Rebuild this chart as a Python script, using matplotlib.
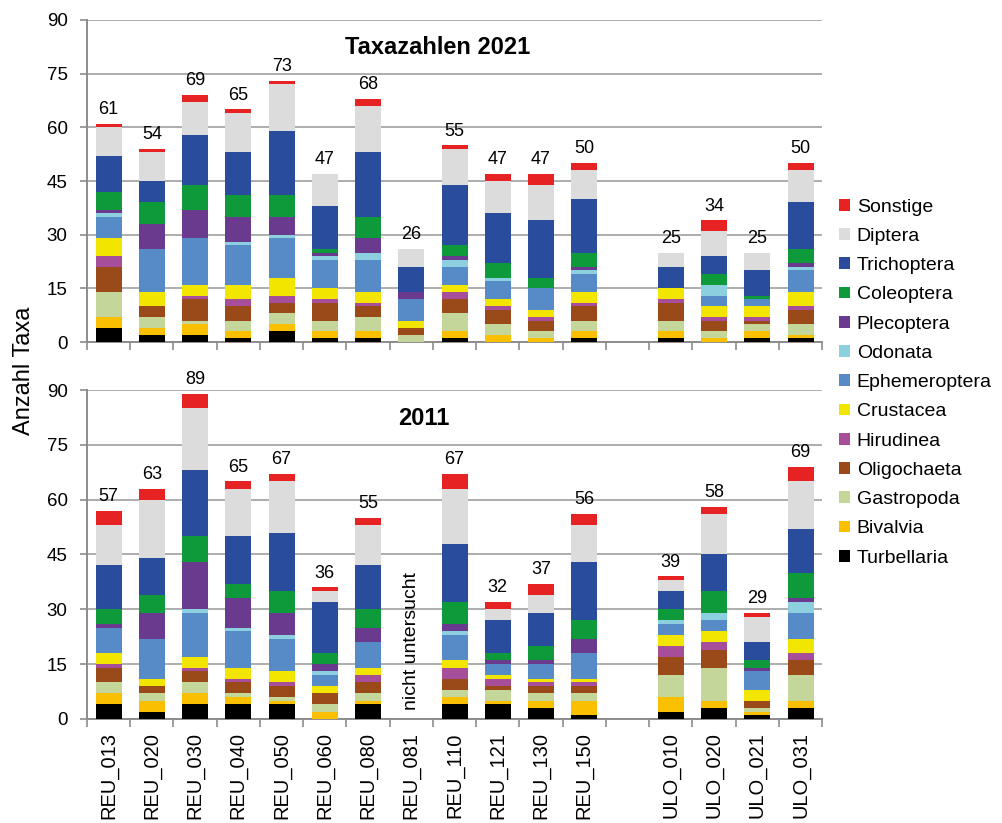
import numpy as np
import matplotlib
matplotlib.use("Agg")
import matplotlib.pyplot as plt
from matplotlib.patches import Patch

plt.rcParams['font.family'] = ['Liberation Sans', 'DejaVu Sans']

SITES = ["REU_013", "REU_020", "REU_030", "REU_040", "REU_050", "REU_060",
         "REU_080", "REU_081", "REU_110", "REU_121", "REU_130", "REU_150",
         "ULO_010", "ULO_020", "ULO_021", "ULO_031"]

TAXA = ["Turbellaria", "Bivalvia", "Gastropoda", "Oligochaeta", "Hirudinea",
        "Crustacea", "Ephemeroptera", "Odonata", "Plecoptera", "Coleoptera",
        "Trichoptera", "Diptera", "Sonstige"]

COLORS = ["#000000", "#FAC000", "#C4D69A", "#9A4A18", "#A64E9A",
          "#F2E600", "#568BC8", "#8CD0E0", "#6A3A8E", "#0E9A3A",
          "#2A4C9C", "#DCDCDC", "#E62222"]

# rows = sites, columns = taxa (same order as TAXA)
counts_2021 = [
    [4, 3, 7, 7, 3, 5, 6, 1, 1, 5, 10, 8, 1],
    [2, 2, 3, 3, 0, 4, 12, 0, 7, 6, 6, 8, 1],
    [2, 3, 1, 6, 1, 3, 13, 0, 8, 7, 14, 9, 2],
    [1, 2, 3, 4, 2, 4, 11, 1, 7, 6, 12, 11, 1],
    [3, 2, 3, 3, 2, 5, 11, 1, 5, 6, 18, 13, 1],
    [1, 2, 3, 5, 1, 3, 8, 1, 1, 1, 12, 9, 0],
    [1, 2, 4, 3, 1, 3, 9, 2, 4, 6, 18, 13, 2],
    [0, 0, 2, 2, 0, 2, 6, 0, 2, 0, 7, 5, 0],
    [1, 2, 5, 4, 2, 2, 5, 2, 1, 3, 17, 10, 1],
    [0, 2, 3, 4, 1, 2, 5, 1, 0, 4, 14, 9, 2],
    [0, 1, 2, 3, 1, 2, 6, 0, 0, 3, 16, 10, 3],
    [1, 2, 3, 4, 1, 3, 5, 1, 1, 4, 15, 8, 2],
    [1, 2, 3, 5, 1, 3, 0, 0, 0, 0, 6, 4, 0],
    [0, 1, 2, 3, 1, 3, 3, 3, 0, 3, 5, 7, 3],
    [1, 2, 2, 1, 1, 3, 2, 0, 0, 1, 7, 5, 0],
    [1, 1, 3, 4, 1, 4, 6, 1, 1, 4, 13, 9, 2],
]

counts_2011 = [
    [4, 3, 3, 4, 1, 3, 7, 0, 1, 4, 12, 11, 4],
    [2, 3, 2, 2, 0, 2, 11, 0, 7, 5, 10, 16, 3],
    [4, 3, 3, 3, 1, 3, 12, 1, 13, 7, 18, 17, 4],
    [4, 2, 1, 3, 1, 3, 10, 1, 8, 4, 13, 13, 2],
    [4, 1, 1, 3, 1, 3, 9, 1, 6, 6, 16, 14, 2],
    [0, 2, 2, 3, 0, 2, 3, 1, 2, 3, 14, 3, 1],
    [4, 1, 2, 3, 2, 2, 7, 0, 4, 5, 12, 11, 2],
    [0, 0, 0, 0, 0, 0, 0, 0, 0, 0, 0, 0, 0],   # REU_081 nicht untersucht
    [4, 2, 2, 3, 3, 2, 7, 1, 2, 6, 16, 15, 4],
    [4, 1, 3, 1, 2, 1, 3, 0, 1, 2, 9, 3, 2],
    [3, 2, 2, 2, 1, 1, 4, 0, 1, 4, 9, 5, 3],
    [1, 4, 2, 2, 1, 1, 7, 0, 4, 5, 16, 10, 3],
    [2, 4, 6, 5, 3, 3, 3, 1, 0, 3, 5, 3, 1],
    [3, 2, 9, 5, 2, 3, 3, 2, 0, 6, 10, 11, 2],
    [1, 1, 1, 2, 0, 3, 5, 0, 1, 2, 5, 7, 1],
    [3, 2, 7, 4, 2, 4, 7, 3, 1, 7, 12, 13, 4],
]

NOT_SAMPLED_2011 = "REU_081"

# 12 REU sites, one empty slot, then 4 ULO sites
xpos = np.array(list(range(12)) + list(range(13, 17)))
N_SLOTS = 17
GRID_C = "#A0A0A0"
AX_C = "#8C8C8C"


def draw_panel(ax, counts, title, title_xy, skip=None):
    data = np.array(counts).T
    bottom = np.zeros(len(SITES))
    for taxon, color, vals in zip(TAXA, COLORS, data):
        ax.bar(xpos, vals, bottom=bottom, width=0.6, color=color,
               linewidth=0, zorder=3)
        bottom += vals
    for x, site, tot in zip(xpos, SITES, bottom):
        if site == skip:
            continue
        ax.text(x, tot + 1.6, f"{int(tot)}", ha="center", va="bottom",
                fontsize=13)

    ax.set_xlim(-0.5, N_SLOTS - 0.5)
    ax.set_ylim(0, 90)
    ax.set_yticks(np.arange(0, 91, 15))
    ax.yaxis.grid(True, color=GRID_C, linewidth=1.2, zorder=0)
    ax.set_axisbelow(True)
    for s in ("top", "right"):
        ax.spines[s].set_visible(False)
    for s in ("left", "bottom"):
        ax.spines[s].set_color(AX_C)
        ax.spines[s].set_linewidth(1.4)
    ax.tick_params(axis="y", length=5, width=1.2, color=AX_C, pad=9,
                   labelsize=13.5)
    # ticks between categories (Excel style)
    ax.set_xticks(np.arange(-0.5, N_SLOTS, 1.0))
    ax.set_xticklabels([])
    ax.tick_params(axis="x", which="major", length=6, width=1.2, color=AX_C)
    ax.text(title_xy[0], title_xy[1], title, ha="center", va="center",
            fontsize=17, fontweight="bold", transform=ax.transData,
            zorder=5)


fig = plt.figure(figsize=(10.03, 8.23), dpi=100)
ax1 = fig.add_axes([0.0867, 0.5844, 0.733, 0.3913])
ax2 = fig.add_axes([0.0867, 0.1264, 0.733, 0.3997])

draw_panel(ax1, counts_2021, "Taxazahlen 2021", (7.6, 82.3))
draw_panel(ax2, counts_2011, "2011", (7.3, 82.3), skip=NOT_SAMPLED_2011)

# site labels under the lower panel
for x, site in zip(xpos, SITES):
    ax2.text(x, -3.6, site, rotation=90, ha="center", va="top",
             fontsize=14.5, clip_on=False)

i_ns = SITES.index(NOT_SAMPLED_2011)
ax2.text(xpos[i_ns], 2.5, "nicht untersucht", rotation=90, ha="center",
         va="bottom", fontsize=14)

fig.text(0.024, 0.55, "Anzahl Taxa", rotation=90, ha="center", va="center",
         fontsize=17)

handles = [Patch(facecolor=c, edgecolor="none") for c in COLORS]
fig.legend(handles[::-1], TAXA[::-1], loc="upper left",
           bbox_to_anchor=(0.829, 0.768), frameon=False, fontsize=14,
           handlelength=0.55, handleheight=0.55, handletextpad=0.35,
           labelspacing=0.63, borderaxespad=0)

fig.savefig("out.png", dpi=100, facecolor="white")
